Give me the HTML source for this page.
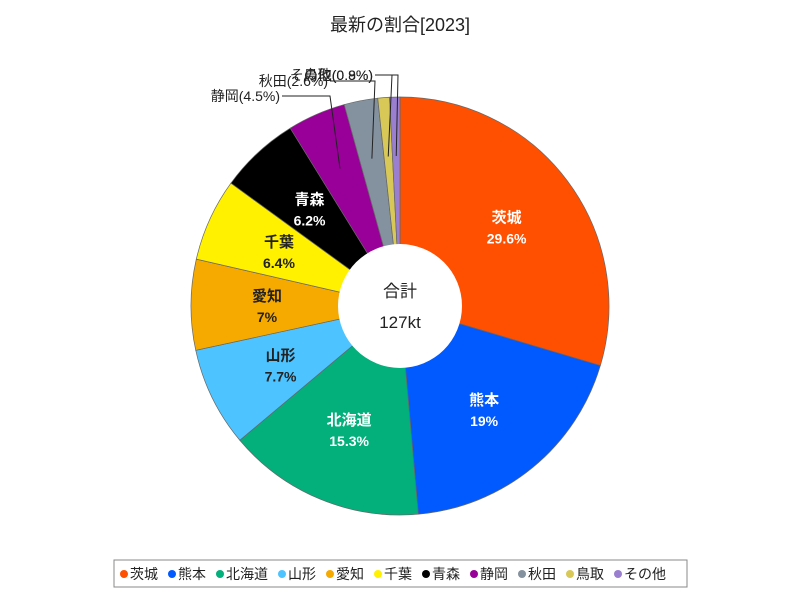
<!DOCTYPE html>
<html><head><meta charset="utf-8"><style>
body{margin:0;background:#fff;font-family:"Liberation Sans","Noto Sans CJK JP",sans-serif}
svg text{font-family:"Liberation Sans","Noto Sans CJK JP",sans-serif}
</style></head><body>
<svg id="c" width="800" height="600">
<text x="400" y="31" text-anchor="middle" font-size="18" fill="#222">最新の割合[2023]</text>
<g id="slices"></g><g id="labels"></g>
<circle cx="400" cy="306" r="62" fill="#fff"/>
<text x="400" y="297" text-anchor="middle" font-size="17" fill="#222">合計</text>
<text x="400" y="328" text-anchor="middle" font-size="17" fill="#222">127kt</text>
<rect x="114" y="560" width="573" height="27" fill="#fff" stroke="#888"/>
<g id="legend"></g>
</svg>
<script>
const categories=["茨城","熊本","北海道","山形","愛知","千葉","青森","静岡","秋田","鳥取","その他"];
const values=[29.6,19,15.3,7.7,7,6.4,6.2,4.5,2.6,0.9,0.8];
const labelText=["29.6%","19%","15.3%","7.7%","7%","6.4%","6.2%","4.5%","2.6%","0.9%","0.8%"];
const colors=["#ff4f00","#005aff","#03af7a","#4dc4ff","#f6aa00","#fff100","#000000","#990099","#84919e","#d8c858","#9a7fd0"];
const NS="http://www.w3.org/2000/svg";
const cx=400,cy=306,R=209;
function mk(t,a,p){const e=document.createElementNS(NS,t);for(const k in a)e.setAttribute(k,a[k]);p.appendChild(e);return e;}
function pt(ang,r){return [cx+r*Math.sin(ang),cy-r*Math.cos(ang)];}
const total=values.reduce((a,b)=>a+b,0);
const sg=document.getElementById('slices'),lg=document.getElementById('labels');
let acc=0;
const outside=[[282,96,330],[330,81,375],[375,75,392],[375,75,398]];
let oi=0;
values.forEach((v,i)=>{
 const a0=acc/total*2*Math.PI;acc+=v;const a1=acc/total*2*Math.PI;
 const p0=pt(a0,R),p1=pt(a1,R);const lf=(a1-a0)>Math.PI?1:0;
 const p=mk('path',{d:`M${cx},${cy}L${p0[0]},${p0[1]}A${R},${R} 0 ${lf} 1 ${p1[0]},${p1[1]}Z`,fill:colors[i],stroke:'#666','stroke-width':0.7},sg);
 
 
 const am=(a0+a1)/2;
 if(v>=5){
  const c=pt(am,133);const col=(i==5||i==4||i==3)?'#222':'#fff';
  const t=mk('text',{x:c[0],y:c[1]-4,'text-anchor':'middle','font-size':15,'font-weight':'bold',fill:col},lg);
  t.textContent=categories[i];
  
  
  const t2=mk('text',{x:c[0],y:c[1]+17,'text-anchor':'middle','font-size':14,'font-weight':'bold',fill:col},lg);
  t2.textContent=labelText[i];
  
  
 }else{
  const o=outside[Math.min(oi,3)];oi++;
  const e=pt(am,150);
  const l=mk('polyline',{points:`${o[0]},${o[1]} ${o[2]},${o[1]} ${e[0]},${e[1]}`,fill:'none',stroke:'#222','stroke-width':1},lg);
  
  
  const t=mk('text',{x:o[0]-2,y:o[1]+5,'text-anchor':'end','font-size':14,fill:'#222'},lg);
  t.textContent=categories[i]+'('+labelText[i]+')';
  
  
 }
});
const leg=document.getElementById('legend');
const widths=[];let x=120;
categories.forEach((c,i)=>{
 const g=mk('g',{},leg);
 
 
 mk('circle',{cx:x+4,cy:574,r:4,fill:colors[i]},g);
 const t=mk('text',{x:x+10,y:579,'font-size':14,fill:'#222'},g);t.textContent=c;
 x+=10+t.getComputedTextLength()+10;
});
</script>
</body></html>
